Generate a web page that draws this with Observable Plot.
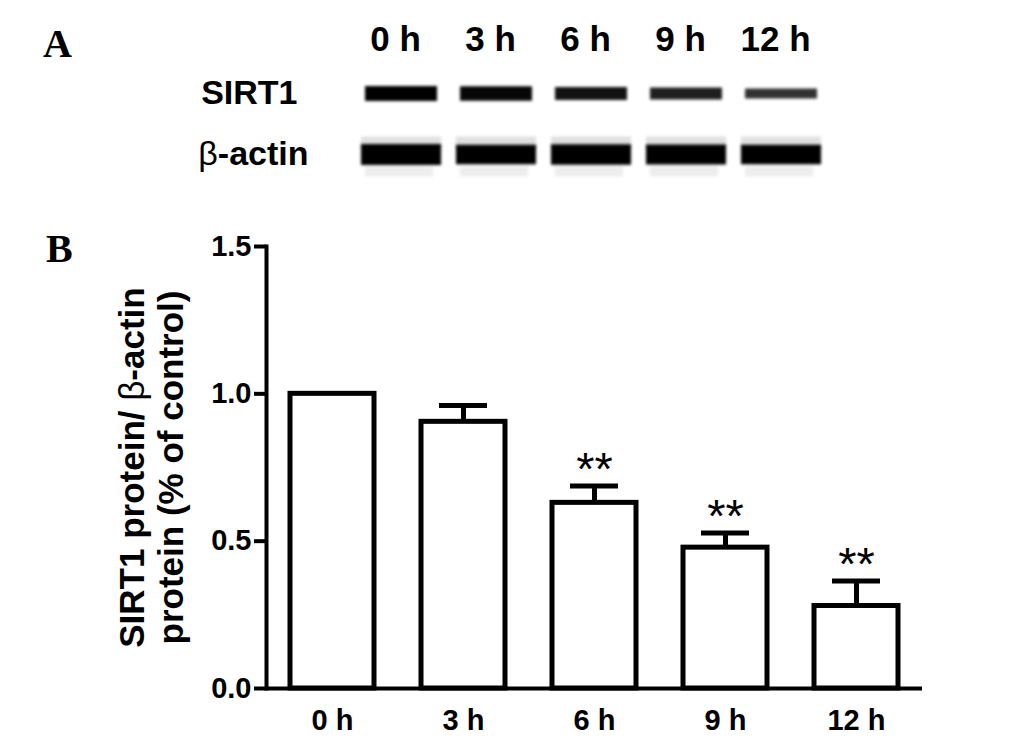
<!DOCTYPE html>
<html><head><meta charset="utf-8">
<script src="https://cdn.jsdelivr.net/npm/d3@7"></script>
<script src="https://cdn.jsdelivr.net/npm/@observablehq/plot@0.6"></script>
<style>
body{margin:0;background:#fff;}
#wrap{position:relative;width:1033px;height:741px;overflow:hidden;background:#fff;font-family:"Liberation Sans",Arial,sans-serif;}
.panel{position:absolute;font-family:"Liberation Serif","Times New Roman",serif;font-weight:bold;font-size:40px;line-height:1;color:#000;}
#blot{position:absolute;left:0;top:0;}
#bars{position:absolute;left:0;top:200px;}
</style></head><body>
<div id="wrap">
<div id="blot"></div>
<div id="bars"></div>
<div class="panel" style="left:43px;top:24px">A</div>
<div class="panel" style="left:46px;top:229px">B</div>
</div>
<script>
// ---- data ----
const lanes = ["0 h", "3 h", "6 h", "9 h", "12 h"];
const proteins = ["SIRT1", "β-actin"];
const sirt1Density = [1.0, 0.93, 0.82, 0.70, 0.52];
const actinDensity = [1.0, 0.94, 0.97, 0.96, 0.94];
const means = [1.00, 0.905, 0.63, 0.478, 0.28];
const sems = [0, 0.055, 0.057, 0.05, 0.085];
const stars = ["", "", "**", "**", "**"];
const yTicks = [0, 0.5, 1.0, 1.5];
const yLabelLine1 = "SIRT1 protein/ β-actin";
const yLabelLine2 = "protein (% of control)";

const FONT = "Liberation Sans, Arial, sans-serif";

// ---- panel A: blot ----
const blotData = lanes.flatMap((lane, i) => [
  {lane, protein: "SIRT1", d: sirt1Density[i]},
  {lane, protein: "β-actin", d: actinDensity[i]}
]);
const actinRows = blotData.filter(d => d.protein === "β-actin");
const sirtRows = blotData.filter(d => d.protein === "SIRT1");

const blot = Plot.plot({
  width: 1033, height: 200,
  marginLeft: 353, marginRight: 205, marginTop: 62, marginBottom: 16,
  x: {domain: lanes, type: "band", paddingInner: 0.2, paddingOuter: 0.1, axis: null},
  y: {domain: proteins, type: "point", padding: 0.5, axis: null},
  style: {fontFamily: FONT, background: "white", overflow: "visible", color: "#000"},
  marks: [
    Plot.tickY(actinRows, {x: "lane", y: "protein", dy: -12, stroke: "#000", strokeOpacity: 0.12, strokeWidth: 12, insetLeft: -2, insetRight: -2}),
    Plot.tickY(actinRows, {x: "lane", y: "protein", dy: 17, stroke: "#000", strokeOpacity: 0.07, strokeWidth: 10, insetLeft: 2, insetRight: 6}),
    Plot.tickY(actinRows, {x: "lane", y: "protein", stroke: "#000", strokeWidth: d => 21 * d.d, insetLeft: -2, insetRight: -2}),
    Plot.tickY(sirtRows, {x: "lane", y: "protein", stroke: "#000", strokeWidth: d => 5 + 10 * d.d, strokeOpacity: d => 0.6 + 0.4 * d.d, insetLeft: 2, insetRight: 2}),
    Plot.text(lanes, {x: d => d, frameAnchor: "top", dy: -23, dx: -6, lineAnchor: "middle", fontSize: 35, fontWeight: "bold"}),
    Plot.text(["SIRT1"], {y: d => d, frameAnchor: "left", textAnchor: "end", dx: -56, lineAnchor: "middle", fontSize: 34, fontWeight: "bold"}),
    Plot.text(["β-actin"], {y: d => d, frameAnchor: "left", textAnchor: "end", dx: -45, lineAnchor: "middle", fontSize: 34, fontWeight: "bold"})
  ]
});
d3.select(blot).selectAll('g[aria-label="tick"]').style("filter", "blur(1.8px)");

// ---- panel B: bars ----
const barData = lanes.map((lane, i) => ({lane, mean: means[i], sem: sems[i], top: means[i] + sems[i], star: stars[i]}));
const errData = barData.filter(d => d.sem > 0);

const bars = Plot.plot({
  width: 1033, height: 541,
  marginLeft: 266, marginRight: 111, marginTop: 46, marginBottom: 53,
  x: {domain: lanes, type: "band", paddingInner: 0.36, paddingOuter: 0.18},
  y: {domain: [0, 1.5]},
  style: {fontFamily: FONT, background: "white", overflow: "visible", color: "#000"},
  marks: [
    Plot.ruleX(errData, {x: "lane", y1: "mean", y2: "top", stroke: "#000", strokeWidth: 5}),
    Plot.tickY(errData, {x: "lane", y: "top", stroke: "#000", strokeWidth: 5, insetLeft: 18, insetRight: 18}),
    Plot.barY(barData, {x: "lane", y: "mean", fill: "white", stroke: "#000", strokeWidth: 5}),
    Plot.text(barData.filter(d => d.star), {x: "lane", y: "top", text: "star", lineAnchor: "bottom", dy: -1, fontSize: 47}),
    Plot.frame({anchor: "left", stroke: "#000", strokeWidth: 4}),
    Plot.ruleY([0], {stroke: "#000", strokeWidth: 4}),
    Plot.axisY({ticks: yTicks, tickFormat: d3.format(".1f"), tickSize: 12, tickPadding: 3, fontSize: 29, fontWeight: "bold", strokeWidth: 4, label: null}),
    Plot.axisX({tickSize: 0, tickPadding: 21, fontSize: 29, fontWeight: "bold", label: null}),
    Plot.text([yLabelLine1], {frameAnchor: "left", textAnchor: "middle", rotate: -90, dx: -134, lineAnchor: "middle", fontSize: 35, fontWeight: "bold"}),
    Plot.text([yLabelLine2], {frameAnchor: "left", textAnchor: "middle", rotate: -90, dx: -95, lineAnchor: "middle", fontSize: 35, fontWeight: "bold"})
  ]
});

function thinBeta(svg) {
  d3.select(svg).selectAll("text, tspan").each(function () {
    for (const n of Array.from(this.childNodes)) {
      if (n.nodeType === 3 && n.nodeValue.includes("β")) {
        const parts = n.nodeValue.split("β");
        const frag = document.createDocumentFragment();
        parts.forEach((p, i) => {
          if (i > 0) {
            const t = document.createElementNS("http://www.w3.org/2000/svg", "tspan");
            t.setAttribute("font-weight", "normal");
            t.textContent = "β";
            frag.appendChild(t);
          }
          if (p) frag.appendChild(document.createTextNode(p));
        });
        n.replaceWith(frag);
      }
    }
  });
}
thinBeta(blot);
thinBeta(bars);

document.getElementById("blot").appendChild(blot);
document.getElementById("bars").appendChild(bars);
</script>
</body></html>
